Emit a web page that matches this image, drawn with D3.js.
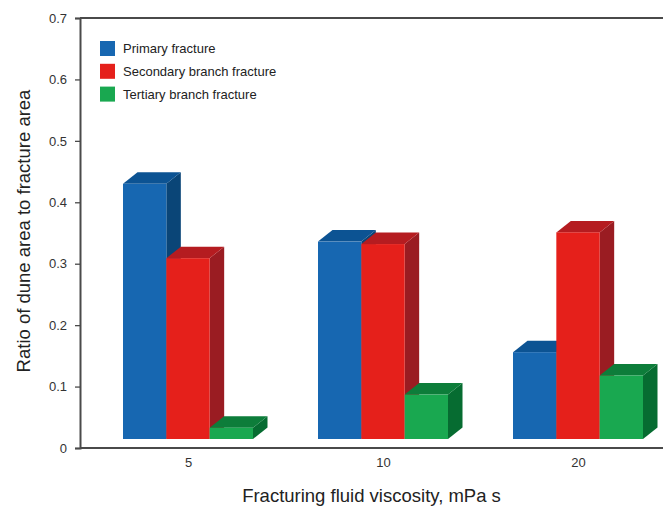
<!DOCTYPE html>
<html>
<head>
<meta charset="utf-8">
<script src="https://cdn.jsdelivr.net/npm/d3@7"></script>
<style>
  html, body { margin: 0; padding: 0; background: #fff; }
  svg { display: block; font-family: Arial, "Liberation Sans", sans-serif; }
</style>
</head>
<body>
<svg id="chart" width="663" height="506"></svg>
<script>
// Fracturing fluid viscosity (mPa s)
const categories = ["5", "10", "20"];
const seriesNames = ["Primary fracture", "Secondary branch fracture", "Tertiary branch fracture"];
// Ratio of dune area to fracture area, per series, per viscosity
const primary   = [0.430, 0.336, 0.156];
const secondary = [0.309, 0.332, 0.351];
const tertiary  = [0.033, 0.087, 0.118];
const yTicks = [0, 0.1, 0.2, 0.3, 0.4, 0.5, 0.6, 0.7];

// front / top / side shades for the 3D blocks
const palette = [
  { front: "#1767b1", top: "#0c5393", side: "#0a4577" },
  { front: "#e5201b", top: "#b51c20", side: "#9a1c22" },
  { front: "#19a850", top: "#0d7d3a", side: "#066c31" }
];

const values = [primary, secondary, tertiary];
const svg = d3.select("#chart");

const y = d3.scaleLinear().domain([0, 0.7]).range([448, 18]);
const x0 = d3.scalePoint().domain(categories).range([188, 578]);
const x1 = d3.scaleBand().domain(seriesNames).range([-65, 65]);

const depthX = 14.5, depthY = 11.5, baseLift = 9;

// frame: top rule across the full width
svg.append("line").attr("x1", 80).attr("x2", 663).attr("y1", y(0.7)).attr("y2", y(0.7))
  .attr("stroke", "#4a4a4a").attr("stroke-width", 2);

// bars, drawn series by series so later blocks cover the earlier sides
const bars = [];
categories.forEach((c, ci) => {
  seriesNames.forEach((s, si) => {
    bars.push({ c, s, si, v: values[si][ci] });
  });
});

const g = svg.append("g");
bars.forEach(b => {
  const xl = x0(b.c) + x1(b.s);
  const xr = xl + x1.bandwidth();
  const yt = y(b.v);
  const yb = y(0) - baseLift;
  const col = palette[b.si];
  // side face
  g.append("path")
    .attr("d", `M${xr},${yt} L${xr + depthX},${yt - depthY} L${xr + depthX},${yb - depthY} L${xr},${yb} Z`)
    .attr("fill", col.side);
  // top face
  g.append("path")
    .attr("d", `M${xl},${yt} L${xl + depthX},${yt - depthY} L${xr + depthX},${yt - depthY} L${xr},${yt} Z`)
    .attr("fill", col.top);
  // front face
  g.append("rect")
    .attr("x", xl).attr("y", yt).attr("width", x1.bandwidth()).attr("height", yb - yt)
    .attr("fill", col.front);
});

// y axis
const yAxis = d3.axisLeft(y).tickValues(yTicks).tickSize(5).tickPadding(8)
  .tickFormat(d => d === 0 ? "0" : d3.format(".1f")(d));
const ya = svg.append("g").attr("transform", "translate(80,0)").call(yAxis);
ya.select(".domain").attr("stroke", "#4a4a4a").attr("stroke-width", 2);
ya.selectAll(".tick line").attr("stroke", "#4a4a4a").attr("stroke-width", 1.3);
ya.selectAll(".tick text").attr("fill", "#333").style("font-size", "13px")
  .style("font-family", "Arial, 'Liberation Sans', sans-serif");

// x axis baseline and category labels
const xAxis = d3.axisBottom(x0).tickSize(0).tickPadding(10);
const xa = svg.append("g").attr("transform", `translate(0,${y(0)})`).call(xAxis);
xa.select(".domain").remove();
xa.append("line").attr("x1", 80).attr("x2", 663).attr("y1", 0).attr("y2", 0)
  .attr("stroke", "#4a4a4a").attr("stroke-width", 2);
xa.selectAll(".tick text").attr("fill", "#333").style("font-size", "13px")
  .style("font-family", "Arial, 'Liberation Sans', sans-serif");

// axis titles
svg.append("text")
  .attr("x", 371.5).attr("y", 502).attr("text-anchor", "middle")
  .attr("fill", "#222").style("font-size", "18.5px")
  .text("Fracturing fluid viscosity, mPa s");
svg.append("text")
  .attr("transform", "translate(30,231) rotate(-90)").attr("text-anchor", "middle")
  .attr("fill", "#222").style("font-size", "18.5px")
  .text("Ratio of dune area to fracture area");

// legend
const legend = svg.append("g").attr("transform", "translate(100,41)");
seriesNames.forEach((s, i) => {
  const row = legend.append("g").attr("transform", `translate(0,${i * 22.8})`);
  row.append("rect").attr("width", 15).attr("height", 15).attr("fill", palette[i].front);
  row.append("text").attr("x", 23).attr("y", 12).attr("fill", "#222")
    .style("font-size", "13px").text(s);
});
</script>
</body>
</html>
